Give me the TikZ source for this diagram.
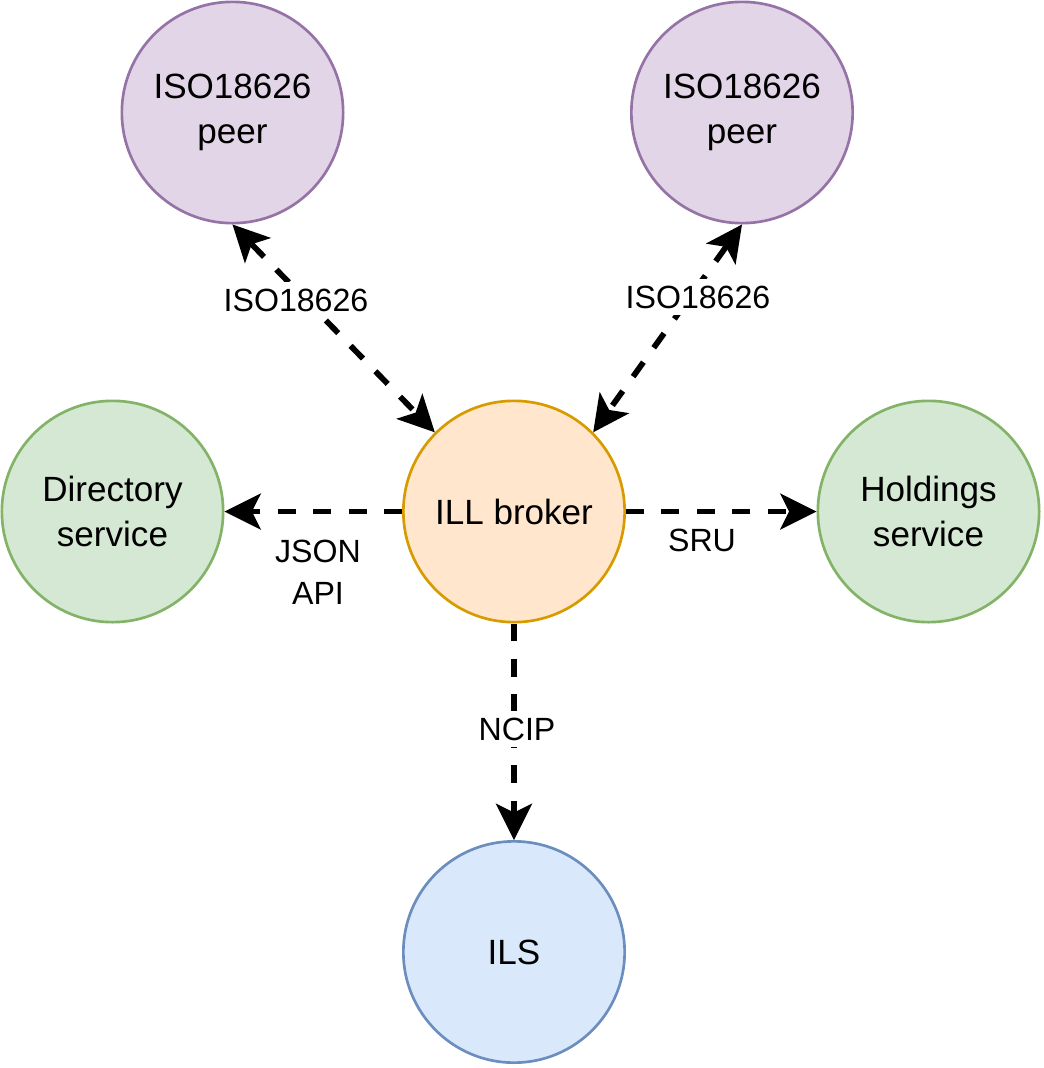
\documentclass[tikz,border=0pt]{standalone}
\usepackage{fontspec}
\setmainfont{Liberation Sans}
\usetikzlibrary{arrows.meta}
\definecolor{purpleF}{HTML}{E1D5E7}
\definecolor{purpleD}{HTML}{9673A6}
\definecolor{greenF}{HTML}{D5E8D4}
\definecolor{greenD}{HTML}{82B366}
\definecolor{orangeF}{HTML}{FFE6CC}
\definecolor{orangeD}{HTML}{D79B00}
\definecolor{blueF}{HTML}{DAE8FC}
\definecolor{blueD}{HTML}{6C8EBF}
\begin{document}
\begin{tikzpicture}[x=0.75pt,y=-0.75pt,
  circ/.style={circle, minimum size=166pt, inner sep=0pt, line width=2pt, align=center,
    font=\fontsize{26.3pt}{33.4pt}\selectfont},
  peer/.style={circ, fill=purpleF, draw=purpleD},
  svc/.style={circ, fill=greenF, draw=greenD},
  brk/.style={circ, fill=orangeF, draw=orangeD},
  ilsbox/.style={circ, fill=blueF, draw=blueD},
  conn/.style={line width=4.3pt, dash pattern=on 13.3pt off 13.3pt},
  dtip/.tip={Stealth[length=27.5pt,width=27.5pt,inset=6.9pt,line width=0pt]},
  lbl/.style={font=\fontsize{24.1pt}{31.5pt}\selectfont, align=center, inner xsep=1pt, inner ysep=5pt},
  lblbg/.style={lbl, fill=white}
]
\useasboundingbox (0,0) rectangle (1044,1068);

\node[peer] (peerL) at (232.5,112.5) {ISO18626\\peer};
\node[peer] (peerR) at (742,112.5) {ISO18626\\peer};
\node[svc] (dir) at (112.5,511.5) {Directory\\service};
\node[brk] (broker) at (514,511.5) {ILL broker};
\node[svc] (hold) at (928.5,511.5) {Holdings\\service};
\node[ilsbox] (ils) at (514,952) {ILS};

\draw[conn, dtip-dtip] (peerL.south) -- (broker.north west);
\draw[conn, dtip-dtip] (peerR.south) -- (broker.north east);
\draw[conn, -dtip] (broker.west) -- (dir.east);
\draw[conn, -dtip] (broker.east) -- (hold.west);
\draw[conn, -dtip] (broker.south) -- (ils.north);

\node[lblbg] (l1) at (296,300) {ISO18626};
\node[lblbg] (l2) at (698,297) {ISO18626};
\node[lbl] (l3) at (318,572) {JSON\\API};
\node[lbl] (l4) at (702,540) {SRU};
\node[lblbg] (l5) at (517,729) {NCIP};
\end{tikzpicture}
\end{document}
